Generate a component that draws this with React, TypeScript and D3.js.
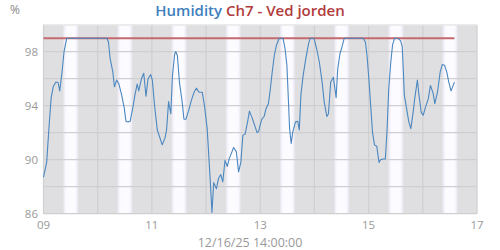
import React from "react";
import * as d3 from "d3";

// hours since 2025-12-09 00:00
const hours = [
  0, 1.4, 2.6, 3.4, 4.3, 5.5, 6.5, 7.2, 8.2, 9.1, 10.3, 28.1, 28.8, 29.5, 30.7, 31.4, 32.4, 33.4, 34.6, 35.8,
  36.5, 37.4, 38.4, 39.6, 40.6, 41.5, 42.2, 43.4, 44.4, 45.4, 46.3, 47.5, 48.2, 49.2, 50.4, 51.4, 52.6, 53.8,
  54.5, 55.4, 56.4, 57.1, 58.1, 58.6, 59.3, 60.2, 61.4, 62.2, 63.1, 64.3, 65.5, 66.7, 67.7, 68.9, 70.3, 71.3,
  72.5, 73.2, 73.9, 74.6, 75.4, 76.6, 77.5, 78.5, 79.4, 80.4, 81.4, 82.3, 83.5, 84.2, 85.4, 86.4, 87.4, 88.3,
  89.3, 90.5, 91.2, 92.4, 93.6, 94.6, 95.3, 96.0, 96.7, 97.7, 98.6, 99.6, 100.3, 101.3, 102.2, 103.2, 104.4,
  106.1, 107.0, 107.8, 108.5, 109.0, 109.7, 110.4, 111.6, 112.6, 113.3, 114.0, 115.0, 116.2, 117.4, 118.1,
  119.8, 121.0, 122.2, 123.4, 124.3, 125.5, 126.2, 127.2, 128.4, 129.6, 130.3, 131.3, 132.2, 133.2, 141.6,
  142.6, 143.3, 144.2, 145.0, 145.7, 146.6, 147.6, 148.6, 149.3, 150.5, 151.4, 152.2, 152.9, 153.8, 154.6,
  155.5, 157.0, 158.2, 158.9, 159.4, 159.8, 160.8, 161.8, 162.7, 163.7, 164.4, 165.6, 166.3, 167.3, 168.2,
  169.2, 170.4, 171.4, 172.6, 173.3, 174.5, 175.7, 176.6, 177.6, 178.6, 179.5, 180.5, 182.0,
];
const humidity = [
  88.7, 89.8, 92.8, 94.6, 95.4, 95.75, 95.7, 95.1, 96.5, 98.0, 99.0, 99.0, 98.7, 97.5, 96.5, 95.4, 95.9, 95.6,
  94.8, 93.8, 92.85, 92.8, 92.85, 93.9, 94.9, 95.6, 95.1, 96.0, 96.4, 94.7, 96.0, 96.3, 95.9, 94.0, 92.2, 91.7,
  91.1, 91.6, 92.2, 94.3, 93.4, 96.2, 97.85, 98.0, 97.7, 95.75, 94.3, 93.0, 93.0, 93.65, 94.4, 95.0, 95.3, 95.0,
  95.0, 94.0, 92.3, 90.3, 88.3, 86.1, 88.3, 87.85, 88.6, 88.9, 88.35, 89.95, 89.5, 90.1, 90.6, 90.9, 90.6, 89.1,
  89.8, 91.8, 91.9, 92.9, 93.6, 93.1, 92.5, 92.0, 92.1, 92.6, 93.0, 93.2, 93.8, 94.15, 95.0, 96.5, 97.7, 98.5,
  99.0, 99.0, 98.2, 97.0, 94.3, 92.3, 91.2, 92.05, 92.8, 92.85, 92.2, 94.8, 96.25, 97.5, 98.6, 99.0, 99.0, 98.2,
  97.2, 95.75, 94.3, 93.2, 93.4, 95.75, 96.1, 94.6, 96.7, 97.85, 98.35, 99.0, 99.0, 98.7, 97.7, 95.75, 93.8,
  92.05, 91.1, 91.0, 89.8, 90.0, 90.05, 90.05, 92.3, 95.25, 97.2, 98.5, 99.0, 99.0, 98.8, 98.35, 96.5, 94.8,
  93.8, 92.8, 92.3, 93.5, 94.5, 95.9, 94.8, 93.5, 93.3, 93.9, 94.5, 95.5, 94.9, 94.15, 95.0, 96.5, 97.05, 97.0,
  96.5, 95.75, 95.1, 95.75,
];
const yTicks = [86, 88, 90, 92, 94, 96, 98, 100];
const yLabels = [86, 90, 94, 98];
const xLabelDays = [9, 11, 13, 15, 17];
const days = [9, 10, 11, 12, 13, 14, 15, 16];
const sunrise = 8.45; // hours
const sunset = 15.65;
const titleLeft = "Humidity";
const titleRight = "Ch7 - Ved jorden";
const unitLabel = "%";
const footer = "12/16/25 14:00:00";

const W = 500;
const H = 250;
const L = 43.5;
const R = 477;
const T = 24.7;
const B = 213.7;

const start = new Date(2025, 11, 9, 0, 0, 0);
const toDate = (h: number) => new Date(start.getTime() + h * 3600 * 1000);

export default function App() {
  const x = d3.scaleTime().domain([new Date(2025, 11, 9), new Date(2025, 11, 17)]).range([L, R]);
  const y = d3.scaleLinear().domain([86, 100]).range([B, T]);
  const data = hours.map((h, i) => ({ d: toDate(h), v: humidity[i] }));
  const line = d3
    .line<{ d: Date; v: number }>()
    .x((p) => x(p.d))
    .y((p) => y(p.v));
  const maxV = d3.max(humidity) as number;
  const fmt = d3.timeFormat("%d");
  const font = "'Open Sans', 'Noto Sans', sans-serif";

  return (
    <svg width={W} height={H} style={{ position: "absolute", left: 0, top: 0 }} fontFamily={font}>
      <defs>
        <linearGradient id="day" x1="0" x2="1" y1="0" y2="0">
          <stop offset="0" stopColor="#f4f0fb" stopOpacity="0" />
          <stop offset="0.14" stopColor="#f6f2fd" stopOpacity="1" />
          <stop offset="0.25" stopColor="#fcfbff" stopOpacity="1" />
          <stop offset="0.75" stopColor="#fcfbff" stopOpacity="1" />
          <stop offset="0.86" stopColor="#f6f2fd" stopOpacity="1" />
          <stop offset="1" stopColor="#f4f0fb" stopOpacity="0" />
        </linearGradient>
      </defs>
      <rect x={L} y={T} width={R - L} height={B - T} fill="#dfdfe1" />
      {days.map((dd) => {
        const a = x(new Date(2025, 11, dd, 0, 0).getTime() + sunrise * 3600e3);
        const b = x(new Date(2025, 11, dd, 0, 0).getTime() + sunset * 3600e3);
        return <rect key={dd} x={a} y={T} width={b - a} height={B - T} fill="url(#day)" />;
      })}
      {yTicks.map((t) => (
        <line key={"y" + t} x1={L} x2={R} y1={y(t)} y2={y(t)} stroke="#cfcfd1" strokeWidth={1.2} />
      ))}
      {d3.range(9, 18).map((dd) => {
        const xx = x(new Date(2025, 11, dd));
        return <line key={"x" + dd} x1={xx} x2={xx} y1={T} y2={B} stroke="#cfcfd1" strokeWidth={1.2} />;
      })}
      <line x1={L} x2={R} y1={T} y2={T} stroke="#ebebeb" strokeWidth={1.5} />
      <line
        x1={x(data[0].d)}
        x2={x(data[data.length - 1].d)}
        y1={y(maxV)}
        y2={y(maxV)}
        stroke="#c46a6e"
        strokeWidth={2}
      />
      <path d={line(data) || ""} fill="none" stroke="#4b87c0" strokeWidth={1.1} strokeLinejoin="round" />
      {yLabels.map((t) => (
        <text key={"yl" + t} x={38} y={y(t) + 4} textAnchor="end" fontSize={11.5} fill="#999">
          {t}
        </text>
      ))}
      {xLabelDays.map((dd) => (
        <text key={"xl" + dd} x={x(new Date(2025, 11, dd))} y={229} textAnchor="middle" fontSize={11.5} fill="#999">
          {fmt(new Date(2025, 11, dd))}
        </text>
      ))}
      <text x={10} y={14} fontSize={12} fill="#888">
        {unitLabel}
      </text>
      <text x={250} y={16} textAnchor="middle" fontSize={15} fontWeight={600}>
        <tspan fill="#3d7fbc">{titleLeft}</tspan>
        <tspan fill="#b23b3b"> {titleRight}</tspan>
      </text>
      <text x={250} y={247} textAnchor="middle" fontSize={12.5} fill="#999">
        {footer}
      </text>
    </svg>
  );
}
